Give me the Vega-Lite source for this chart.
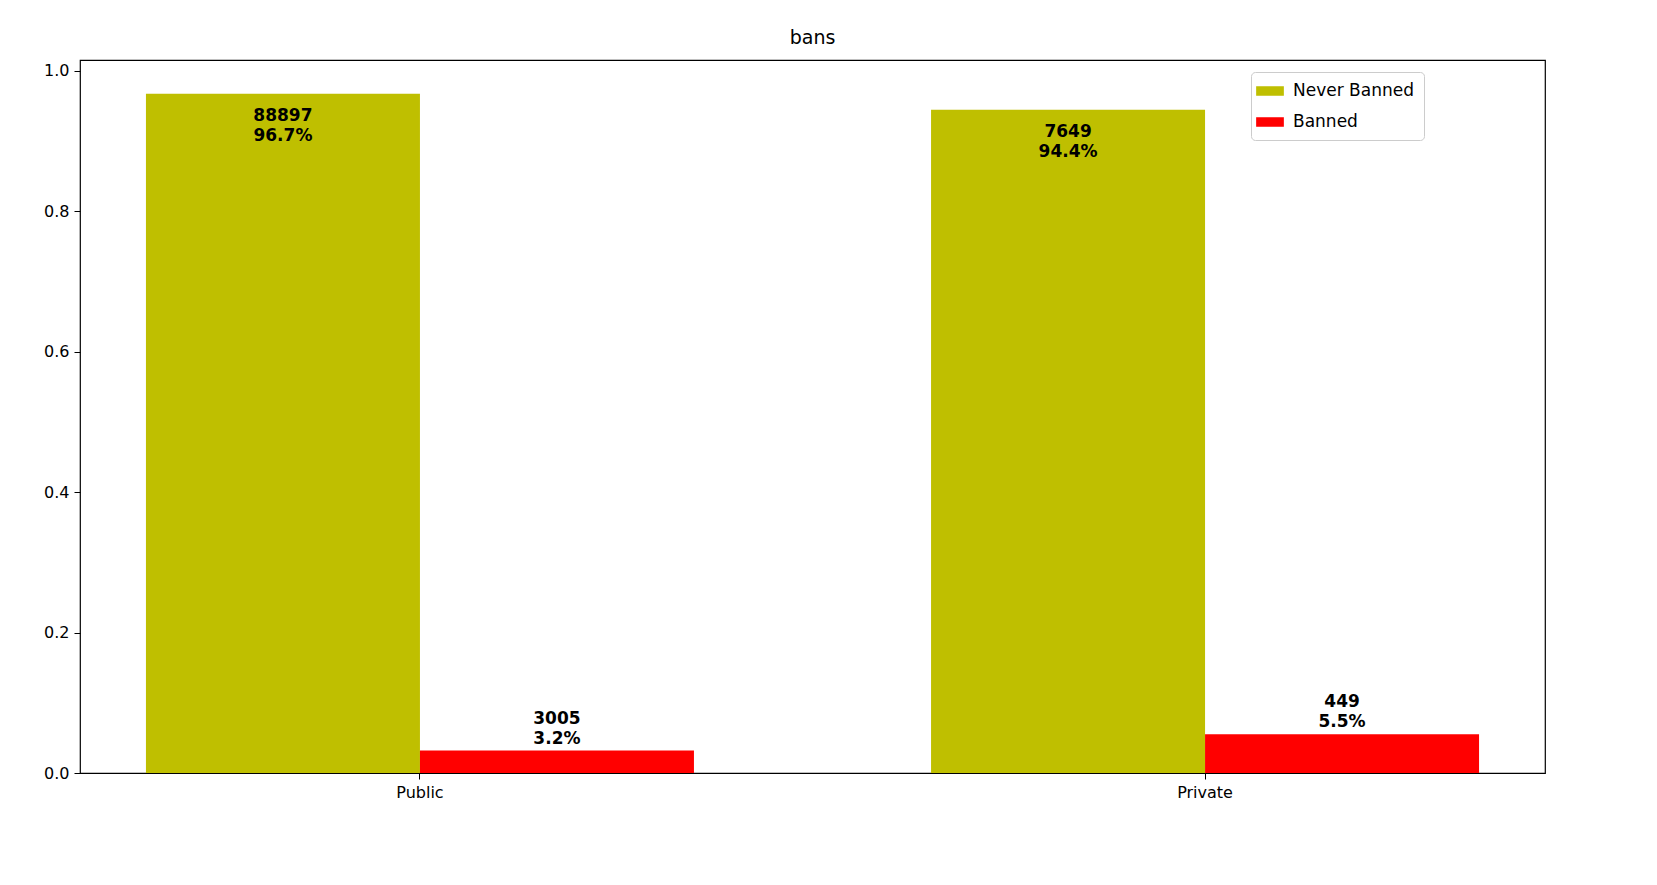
{
  "$schema": "https://vega.github.io/schema/vega-lite/v6.json",
  "width": 1465,
  "height": 713,
  "autosize": {"type": "none"},
  "padding": {"left": 80, "top": 60, "right": 112, "bottom": 112},
  "background": "white",
  "config": {
    "font": "DejaVu Sans",
    "view": {"stroke": "black", "strokeWidth": 1.2},
    "axis": {"grid": false, "domain": false, "tickColor": "black", "tickSize": 6, "labelFontSize": 16, "labelColor": "black", "labelPadding": 5}
  },
  "title": {"text": "bans", "fontSize": 19, "fontWeight": "normal", "offset": 12},
  "data": {
    "values": [
      {"type": "Public", "status": "Never Banned", "value": 0.967, "label": "88897\n96.7%"},
      {"type": "Public", "status": "Banned", "value": 0.032, "label": "3005\n3.2%"},
      {"type": "Private", "status": "Never Banned", "value": 0.944, "label": "7649\n94.4%"},
      {"type": "Private", "status": "Banned", "value": 0.055, "label": "449\n5.5%"}
    ]
  },
  "encoding": {
    "x": {"field": "type", "type": "nominal", "sort": ["Public", "Private"], "title": null,
          "scale": {"paddingInner": 0.302, "paddingOuter": 0.084},
          "axis": {"labelAngle": 0}},
    "xOffset": {"field": "status", "type": "nominal", "sort": ["Never Banned", "Banned"], "scale": {"paddingInner": 0, "paddingOuter": 0}},
    "y": {"field": "value", "type": "quantitative", "title": null,
          "scale": {"domain": [0, 1.015], "nice": false},
          "axis": {"values": [0, 0.2, 0.4, 0.6, 0.8, 1.0], "format": ".1f"}}
  },
  "layer": [
    {
      "mark": {"type": "bar"},
      "encoding": {
        "color": {"field": "status", "type": "nominal",
                  "scale": {"domain": ["Never Banned", "Banned"], "range": ["#bfbf00", "#ff0000"]},
                  "legend": {"title": null, "orient": "none", "legendX": 1171, "legendY": 12,
                             "labelFontSize": 17, "symbolType": "M-1.6,-0.55H1.6V0.55H-1.6Z", "symbolSize": 300,
                             "symbolStrokeWidth": 0, "symbolOpacity": 1, "rowPadding": 14,
                             "strokeColor": "#cccccc", "fillColor": "white", "padding": 10, "cornerRadius": 4,
                             "labelOffset": 14}}
      }
    },
    {
      "transform": [{"filter": "datum.status === 'Never Banned'"}],
      "mark": {"type": "text", "baseline": "top", "dy": 14, "fontSize": 17, "fontWeight": "bold", "lineBreak": "\n", "lineHeight": 20, "color": "black"},
      "encoding": {"text": {"field": "label"}}
    },
    {
      "transform": [{"filter": "datum.status === 'Banned'"}],
      "mark": {"type": "text", "baseline": "bottom", "dy": -23, "fontSize": 17, "fontWeight": "bold", "lineBreak": "\n", "lineHeight": 20, "color": "black"},
      "encoding": {"text": {"field": "label"}}
    }
  ]
}
